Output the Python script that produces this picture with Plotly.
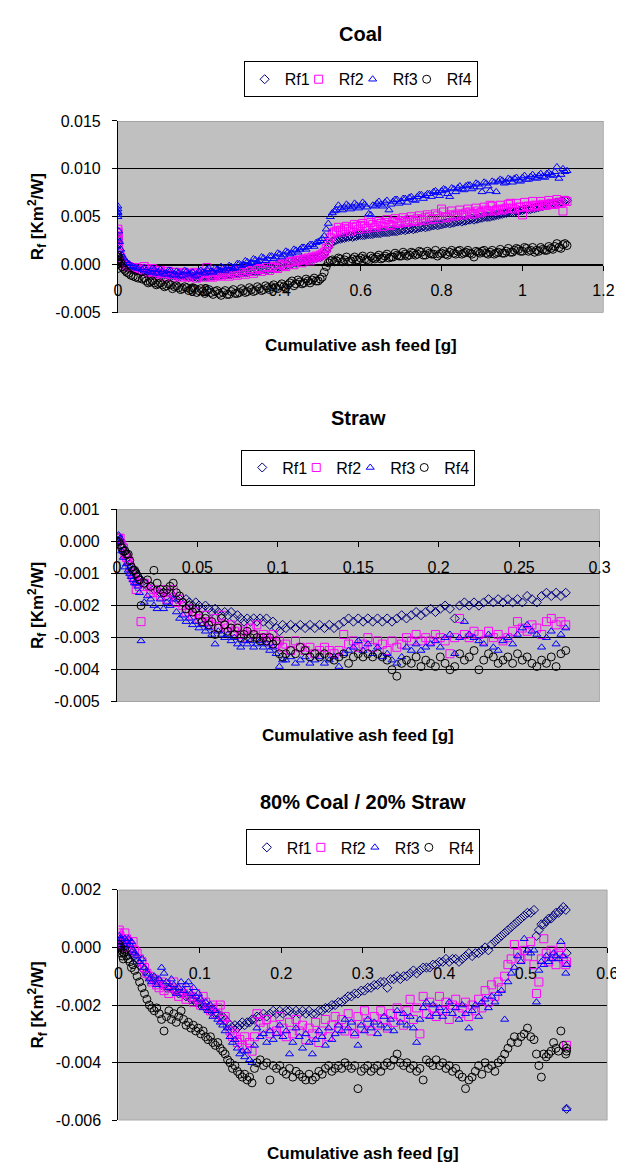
import plotly.graph_objects as go

W, H = 624, 1164
FONT = "Liberation Sans, Arial, Helvetica, sans-serif"

# ---------------- data ----------------
series_names = ["Rf1", "Rf2", "Rf3", "Rf4"]
series_colors = ["#000080", "#FF00FF", "#0000FF", "#000000"]
series_symbols = ["diamond-open", "square-open", "triangle-up-open", "circle-open"]
series_sizes = [7, 8, 7, 8]

chart_titles = ["Coal", "Straw", "80% Coal / 20% Straw"]
x_title = "Cumulative ash feed [g]"
y_title = "R<sub>f</sub> [Km<sup>2</sup>/W]"

# Coal (main readings)
coal_x = [
    0, 0, 0, 0, 0, 0, 0.002, 0.004, 0.007, 0.010,
    0.014, 0.018, 0.022, 0.027, 0.032, 0.038, 0.044, 0.050, 0.060, 0.070,
    0.08, 0.09, 0.10, 0.11, 0.12, 0.13, 0.14, 0.15, 0.16, 0.17,
    0.18, 0.19, 0.20, 0.21, 0.22, 0.23, 0.24, 0.25, 0.26, 0.27,
    0.28, 0.29, 0.30, 0.31, 0.32, 0.33, 0.34, 0.35, 0.36, 0.37,
    0.38, 0.39, 0.40, 0.41, 0.42, 0.43, 0.44, 0.45, 0.46, 0.47,
    0.48, 0.49, 0.50, 0.505, 0.51, 0.515, 0.52, 0.525, 0.53, 0.535,
    0.54, 0.55, 0.56, 0.57, 0.58, 0.59, 0.60, 0.61, 0.62, 0.63,
    0.64, 0.65, 0.66, 0.67, 0.68, 0.69, 0.70, 0.71, 0.72, 0.73,
    0.74, 0.75, 0.76, 0.77, 0.78, 0.79, 0.80, 0.81, 0.82, 0.83,
    0.84, 0.85, 0.86, 0.87, 0.88, 0.89, 0.90, 0.91, 0.92, 0.93,
    0.94, 0.95, 0.96, 0.97, 0.98, 0.99, 1.00, 1.01, 1.02, 1.03,
    1.04, 1.05, 1.06, 1.07, 1.08, 1.09, 1.10, 1.11]
coal_rf1 = [
    0.0026, 0.0029, 0.0024, 0.0027, 0.0022, 0.0020, 0.0014, 0.0009, 0.0005, 0.0002,
    0.0000, -0.0002, -0.0003, -0.0004, -0.0005, -0.0005, -0.0006, -0.0006, -0.0007, -0.0008,
    -0.0008, -0.0009, -0.0009, -0.0010, -0.0010, -0.0011, -0.0011, -0.0012, -0.0011, -0.0012,
    -0.0012, -0.0012, -0.0013, -0.0012, -0.0012, -0.0011, -0.0011, -0.0011, -0.0010, -0.0010,
    -0.0010, -0.0009, -0.0009, -0.0008, -0.0008, -0.0007, -0.0007, -0.0006, -0.0005, -0.0005,
    -0.0004, -0.0003, -0.0002, -0.0001, 0.0000, 0.0001, 0.0002, 0.0003, 0.0004, 0.0005,
    0.0006, 0.0007, 0.0008, 0.0009, 0.0011, 0.0014, 0.0018, 0.0022, 0.0024, 0.0025,
    0.0026, 0.0027, 0.0028, 0.0029, 0.0029, 0.0030, 0.0031, 0.0031, 0.0032, 0.0032,
    0.0033, 0.0033, 0.0034, 0.0034, 0.0035, 0.0035, 0.0036, 0.0036, 0.0037, 0.0037,
    0.0038, 0.0039, 0.0039, 0.0040, 0.0041, 0.0041, 0.0042, 0.0043, 0.0043, 0.0044,
    0.0045, 0.0045, 0.0046, 0.0047, 0.0047, 0.0048, 0.0049, 0.0050, 0.0050, 0.0051,
    0.0052, 0.0053, 0.0054, 0.0055, 0.0055, 0.0056, 0.0057, 0.0058, 0.0058, 0.0059,
    0.0060, 0.0061, 0.0062, 0.0063, 0.0064, 0.0065, 0.0066, 0.0067]
coal_rf2 = [
    0.0030, 0.0034, 0.0037, 0.0033, 0.0028, 0.0025, 0.0018, 0.0012, 0.0008, 0.0004,
    0.0002, 0.0000, -0.0001, -0.0002, -0.0003, -0.0004, -0.0003, -0.0005, -0.0006, -0.0004,
    -0.0007, -0.0006, -0.0008, -0.0009, -0.0007, -0.0010, -0.0008, -0.0011, -0.0009, -0.0012,
    -0.0010, -0.0008, -0.0011, -0.0009, -0.0003, -0.0012, -0.0010, -0.0011, -0.0009, -0.0010,
    -0.0008, -0.0009, -0.0007, -0.0008, -0.0006, -0.0007, -0.0005, -0.0004, -0.0005, -0.0003,
    -0.0002, -0.0003, 0.0000, -0.0001, 0.0002, 0.0003, 0.0004, 0.0005, 0.0006, 0.0007,
    0.0008, 0.0009, 0.0010, 0.0011, 0.0013, 0.0017, 0.0022, 0.0028, 0.0032, 0.0034,
    0.0035, 0.0036, 0.0038, 0.0037, 0.0039, 0.0040, 0.0041, 0.0040, 0.0046, 0.0042,
    0.0041, 0.0043, 0.0044, 0.0042, 0.0045, 0.0044, 0.0046, 0.0045, 0.0047, 0.0046,
    0.0048, 0.0047, 0.0049, 0.0050, 0.0048, 0.0051, 0.0058, 0.0050, 0.0052, 0.0051,
    0.0053, 0.0052, 0.0054, 0.0055, 0.0053, 0.0056, 0.0055, 0.0057, 0.0062, 0.0056,
    0.0058, 0.0057, 0.0059, 0.0064, 0.0058, 0.0060, 0.0052, 0.0061, 0.0060, 0.0062,
    0.0061, 0.0063, 0.0062, 0.0064, 0.0063, 0.0065, 0.0056, 0.0066]
coal_rf3 = [
    0.0052, 0.0055, 0.0058, 0.0061, 0.0054, 0.0050, 0.0035, 0.0024, 0.0016, 0.0010,
    0.0007, 0.0004, 0.0002, 0.0001, -0.0001, -0.0002, -0.0003, -0.0004, -0.0005, -0.0006,
    -0.0007, -0.0005, -0.0008, -0.0007, -0.0009, -0.0006, -0.0010, -0.0008, -0.0011, -0.0007,
    -0.0009, -0.0012, -0.0007, -0.0008, -0.0005, -0.0007, -0.0004, -0.0006, -0.0003, -0.0004,
    -0.0002, -0.0003, 0.0001, 0.0000, 0.0003, 0.0002, 0.0005, 0.0004, 0.0007, 0.0006,
    0.0009, 0.0008, 0.0011, 0.0010, 0.0013, 0.0012, 0.0015, 0.0016, 0.0018, 0.0019,
    0.0021, 0.0023, 0.0025, 0.0027, 0.0030, 0.0037, 0.0043, 0.0050, 0.0054, 0.0056,
    0.0057, 0.0059, 0.0060, 0.0061, 0.0060, 0.0062, 0.0061, 0.0063, 0.0053, 0.0062,
    0.0064, 0.0063, 0.0065, 0.0057, 0.0066, 0.0068, 0.0066, 0.0069, 0.0070, 0.0068,
    0.0071, 0.0073, 0.0072, 0.0074, 0.0076, 0.0075, 0.0077, 0.0078, 0.0071, 0.0079,
    0.0080, 0.0079, 0.0082, 0.0083, 0.0081, 0.0084, 0.0076, 0.0085, 0.0077, 0.0086,
    0.0087, 0.0088, 0.0086, 0.0089, 0.0090, 0.0088, 0.0091, 0.0089, 0.0092, 0.0091,
    0.0093, 0.0092, 0.0095, 0.0094, 0.0097, 0.0090, 0.0100, 0.0098]
coal_rf4 = [
    0.0003, 0.0008, 0.0005, 0.0010, -0.0004, 0.0001, 0.0004, 0.0006, 0.0002, -0.0002,
    -0.0004, -0.0006, -0.0008, -0.0009, -0.0011, -0.0012, -0.0013, -0.0014, -0.0015, -0.0017,
    -0.0018, -0.0019, -0.0020, -0.0021, -0.0022, -0.0021, -0.0023, -0.0024, -0.0025, -0.0024,
    -0.0026, -0.0025, -0.0027, -0.0028, -0.0027, -0.0029, -0.0028, -0.0030, -0.0029, -0.0031,
    -0.0028, -0.0030, -0.0029, -0.0027, -0.0028, -0.0026, -0.0027, -0.0025, -0.0026, -0.0024,
    -0.0023, -0.0024, -0.0022, -0.0023, -0.0021, -0.0017, -0.0020, -0.0018, -0.0019, -0.0017,
    -0.0016, -0.0017, -0.0015, -0.0013, -0.0008, -0.0002, 0.0002, 0.0004, 0.0005, 0.0003,
    0.0004, 0.0006, 0.0005, 0.0003, 0.0006, 0.0005, 0.0007, 0.0006, 0.0004, 0.0007,
    0.0008, 0.0006, 0.0009, 0.0007, 0.0008, 0.0010, 0.0009, 0.0011, 0.0010, 0.0012,
    0.0011, 0.0013, 0.0010, 0.0012, 0.0011, 0.0009, 0.0012, 0.0011, 0.0013, 0.0012,
    0.0014, 0.0011, 0.0013, 0.0012, 0.0008, 0.0013, 0.0014, 0.0012, 0.0013, 0.0011,
    0.0013, 0.0012, 0.0014, 0.0013, 0.0015, 0.0016, 0.0014, 0.0017, 0.0015, 0.0013,
    0.0014, 0.0016, 0.0015, 0.0017, 0.0019, 0.0018, 0.0021, 0.0020]

# Coal (intermediate readings between the ones above)
coal_x_mid = [
    0.065, 0.075, 0.085, 0.095, 0.105, 0.115, 0.125, 0.135, 0.145, 0.155,
    0.165, 0.175, 0.185, 0.195, 0.205, 0.215, 0.225, 0.235, 0.245, 0.255,
    0.265, 0.275, 0.285, 0.295, 0.305, 0.315, 0.325, 0.335, 0.345, 0.355,
    0.365, 0.375, 0.385, 0.395, 0.405, 0.415, 0.425, 0.435, 0.445, 0.455,
    0.465, 0.475, 0.485, 0.495,
    0.545, 0.555, 0.565, 0.575, 0.585, 0.595, 0.605, 0.615, 0.625, 0.635,
    0.645, 0.655, 0.665, 0.675, 0.685, 0.695, 0.705, 0.715, 0.725, 0.735,
    0.745, 0.755, 0.765, 0.775, 0.785, 0.795, 0.805, 0.815, 0.825, 0.835,
    0.845, 0.855, 0.865, 0.875, 0.885, 0.895, 0.905, 0.915, 0.925, 0.935,
    0.945, 0.955, 0.965, 0.975, 0.985, 0.995, 1.005, 1.015, 1.025, 1.035,
    1.045, 1.055, 1.065, 1.075, 1.085, 1.095, 1.105]
coal_rf1_mid = [
    -0.0006, -0.0008, -0.0008, -0.0009, -0.0010, -0.0010, -0.0011, -0.0011, -0.0012, -0.0012,
    -0.0012, -0.0013, -0.0013, -0.0013, -0.0012, -0.0012, -0.0012, -0.0011, -0.0011, -0.0010,
    -0.0010, -0.0010, -0.0009, -0.0009, -0.0008, -0.0008, -0.0007, -0.0006, -0.0006, -0.0005,
    -0.0004, -0.0003, -0.0002, -0.0001, 0.0000, 0.0001, 0.0002, 0.0003, 0.0004, 0.0005,
    0.0005, 0.0006, 0.0007, 0.0008,
    0.0027, 0.0028, 0.0029, 0.0030, 0.0030, 0.0031, 0.0031, 0.0032, 0.0032, 0.0033,
    0.0033, 0.0034, 0.0034, 0.0035, 0.0035, 0.0036, 0.0037, 0.0037, 0.0038, 0.0038,
    0.0039, 0.0040, 0.0040, 0.0041, 0.0042, 0.0042, 0.0043, 0.0044, 0.0044, 0.0045,
    0.0046, 0.0046, 0.0047, 0.0048, 0.0048, 0.0049, 0.0050, 0.0050, 0.0051, 0.0052,
    0.0053, 0.0054, 0.0055, 0.0055, 0.0056, 0.0057, 0.0058, 0.0058, 0.0059, 0.0060,
    0.0061, 0.0062, 0.0063, 0.0064, 0.0065, 0.0066, 0.0067]
coal_rf2_mid = [
    -0.0002, -0.0008, -0.0004, -0.0010, -0.0006, -0.0012, -0.0007, -0.0013, -0.0008, -0.0013,
    -0.0008, -0.0013, -0.0009, -0.0014, -0.0009, -0.0013, -0.0008, -0.0013, -0.0008, -0.0012,
    -0.0007, -0.0012, -0.0006, -0.0011, -0.0005, -0.0010, -0.0004, -0.0009, -0.0003, -0.0007,
    -0.0002, -0.0006, 0.0000, -0.0004, 0.0001, -0.0002, 0.0003, 0.0000, 0.0004, 0.0002,
    0.0005, 0.0004, 0.0007, 0.0008,
    0.0039, 0.0034, 0.0040, 0.0035, 0.0042, 0.0037, 0.0043, 0.0038, 0.0044, 0.0039,
    0.0045, 0.0040, 0.0047, 0.0041, 0.0048, 0.0043, 0.0049, 0.0044, 0.0050, 0.0045,
    0.0051, 0.0046, 0.0052, 0.0047, 0.0053, 0.0048, 0.0055, 0.0049, 0.0056, 0.0051,
    0.0057, 0.0052, 0.0058, 0.0053, 0.0059, 0.0054, 0.0060, 0.0056, 0.0061, 0.0057,
    0.0062, 0.0058, 0.0063, 0.0059, 0.0064, 0.0060, 0.0065, 0.0061, 0.0066, 0.0062,
    0.0066, 0.0062, 0.0067, 0.0063, 0.0068, 0.0064, 0.0067]
coal_rf3_mid = [
    -0.0003, -0.0008, -0.0004, -0.0009, -0.0005, -0.0010, -0.0006, -0.0011, -0.0007, -0.0012,
    -0.0006, -0.0010, -0.0008, -0.0011, -0.0006, -0.0009, -0.0004, -0.0008, -0.0005, -0.0002,
    -0.0006, -0.0001, -0.0004, 0.0001, -0.0001, 0.0004, 0.0001, 0.0006, 0.0003, 0.0008,
    0.0004, 0.0009, 0.0006, 0.0012, 0.0008, 0.0014, 0.0011, 0.0016, 0.0013, 0.0018,
    0.0016, 0.0021, 0.0019, 0.0024,
    0.0062, 0.0057, 0.0063, 0.0058, 0.0064, 0.0059, 0.0065, 0.0060, 0.0052, 0.0061,
    0.0066, 0.0061, 0.0067, 0.0063, 0.0068, 0.0064, 0.0069, 0.0065, 0.0071, 0.0067,
    0.0073, 0.0069, 0.0074, 0.0071, 0.0077, 0.0072, 0.0079, 0.0074, 0.0080, 0.0076,
    0.0082, 0.0078, 0.0083, 0.0079, 0.0085, 0.0081, 0.0086, 0.0082, 0.0087, 0.0076,
    0.0089, 0.0085, 0.0090, 0.0086, 0.0091, 0.0087, 0.0093, 0.0089, 0.0094, 0.0090,
    0.0095, 0.0091, 0.0096, 0.0093, 0.0102, 0.0094, 0.0097]
coal_rf4_mid = [
    -0.0014, -0.0019, -0.0017, -0.0021, -0.0019, -0.0023, -0.0020, -0.0025, -0.0022, -0.0026,
    -0.0023, -0.0027, -0.0024, -0.0029, -0.0025, -0.0030, -0.0026, -0.0031, -0.0027, -0.0032,
    -0.0027, -0.0031, -0.0026, -0.0030, -0.0025, -0.0029, -0.0024, -0.0028, -0.0023, -0.0027,
    -0.0022, -0.0026, -0.0021, -0.0025, -0.0020, -0.0024, -0.0019, -0.0022, -0.0016, -0.0020,
    -0.0015, -0.0019, -0.0014, -0.0017,
    0.0007, 0.0003, 0.0008, 0.0004, 0.0008, 0.0005, 0.0009, 0.0005, 0.0009, 0.0006,
    0.0010, 0.0007, 0.0011, 0.0008, 0.0012, 0.0009, 0.0013, 0.0009, 0.0013, 0.0010,
    0.0014, 0.0010, 0.0014, 0.0011, 0.0015, 0.0011, 0.0014, 0.0010, 0.0015, 0.0011,
    0.0015, 0.0012, 0.0015, 0.0011, 0.0014, 0.0012, 0.0015, 0.0011, 0.0015, 0.0012,
    0.0016, 0.0012, 0.0017, 0.0013, 0.0017, 0.0014, 0.0018, 0.0014, 0.0018, 0.0015,
    0.0018, 0.0015, 0.0019, 0.0016, 0.0022, 0.0017, 0.0022]

# Straw
straw_x = [
    0, 0.001, 0.002, 0.003, 0.004, 0.005, 0.006, 0.007, 0.008, 0.009,
    0.010, 0.011, 0.012, 0.013, 0.014, 0.015, 0.017, 0.019, 0.021, 0.023,
    0.025, 0.027, 0.029, 0.031, 0.033, 0.035, 0.037, 0.039, 0.041, 0.043,
    0.045, 0.047, 0.049, 0.051, 0.053, 0.055, 0.057, 0.059, 0.061, 0.063,
    0.065, 0.067, 0.069, 0.071, 0.073, 0.075, 0.077, 0.079, 0.081, 0.083,
    0.085, 0.087, 0.089, 0.091, 0.093, 0.095, 0.097, 0.099, 0.101, 0.103,
    0.105, 0.108, 0.111, 0.114, 0.117, 0.120, 0.123, 0.126, 0.129, 0.132,
    0.135, 0.138, 0.141, 0.144, 0.147, 0.150, 0.153, 0.156, 0.159, 0.162,
    0.165, 0.168, 0.171, 0.174, 0.177, 0.180, 0.183, 0.186, 0.189, 0.192,
    0.195, 0.198, 0.201, 0.204, 0.207, 0.210, 0.213, 0.216, 0.219, 0.222,
    0.225, 0.228, 0.231, 0.234, 0.237, 0.240, 0.243, 0.246, 0.249, 0.252,
    0.255, 0.258, 0.261, 0.264, 0.267, 0.270, 0.273, 0.276, 0.279]
straw_rf1 = [
    0.0000, 0.0001, 0.0000, -0.0001, -0.0002, -0.0003, -0.0004, -0.0005, -0.0007, -0.0008,
    -0.0009, -0.0009, -0.0010, -0.0011, -0.0012, -0.0012, -0.0013, -0.0014, -0.0014, -0.0015,
    -0.0015, -0.0016, -0.0016, -0.0017, -0.0016, -0.0017, -0.0018, -0.0018, -0.0019, -0.0018,
    -0.0019, -0.0020, -0.0019, -0.0020, -0.0021, -0.0020, -0.0021, -0.0022, -0.0021, -0.0022,
    -0.0023, -0.0022, -0.0023, -0.0022, -0.0024, -0.0023, -0.0024, -0.0025, -0.0024, -0.0025,
    -0.0024, -0.0025, -0.0024, -0.0025, -0.0024, -0.0026, -0.0025, -0.0027, -0.0028, -0.0026,
    -0.0027, -0.0026, -0.0027, -0.0026, -0.0027, -0.0026, -0.0027, -0.0026, -0.0027, -0.0026,
    -0.0027, -0.0026, -0.0025, -0.0024, -0.0025, -0.0024, -0.0025, -0.0024, -0.0025, -0.0024,
    -0.0025, -0.0024, -0.0025, -0.0024, -0.0023, -0.0024, -0.0023, -0.0022, -0.0023, -0.0022,
    -0.0021, -0.0022, -0.0021, -0.0020, -0.0021, -0.0024, -0.0020, -0.0019, -0.0020, -0.0019,
    -0.0020, -0.0019, -0.0018, -0.0019, -0.0018, -0.0019, -0.0018, -0.0019, -0.0018, -0.0019,
    -0.0017, -0.0018, -0.0019, -0.0017, -0.0016, -0.0017, -0.0016, -0.0017, -0.0016]
straw_rf2 = [
    0.0000, 0.0001, 0.0001, -0.0001, -0.0002, -0.0004, -0.0005, -0.0006, -0.0008, -0.0010,
    -0.0011, -0.0012, -0.0015, -0.0013, -0.0014, -0.0025, -0.0013, -0.0014, -0.0016, -0.0015,
    -0.0016, -0.0017, -0.0015, -0.0018, -0.0016, -0.0015, -0.0019, -0.0018, -0.0020, -0.0022,
    -0.0021, -0.0023, -0.0022, -0.0024, -0.0025, -0.0023, -0.0025, -0.0026, -0.0024, -0.0027,
    -0.0023, -0.0026, -0.0027, -0.0026, -0.0028, -0.0027, -0.0029, -0.0028, -0.0030, -0.0027,
    -0.0029, -0.0026, -0.0030, -0.0029, -0.0030, -0.0031, -0.0029, -0.0032, -0.0031, -0.0033,
    -0.0032, -0.0034, -0.0031, -0.0033, -0.0034, -0.0033, -0.0035, -0.0034, -0.0033, -0.0034,
    -0.0035, -0.0034, -0.0029, -0.0032, -0.0031, -0.0033, -0.0032, -0.0030, -0.0033, -0.0031,
    -0.0032, -0.0034, -0.0031, -0.0033, -0.0032, -0.0030, -0.0031, -0.0029, -0.0031, -0.0030,
    -0.0031, -0.0029, -0.0030, -0.0031, -0.0035, -0.0030, -0.0024, -0.0029, -0.0030, -0.0028,
    -0.0029, -0.0031, -0.0028, -0.0030, -0.0029, -0.0031, -0.0030, -0.0028, -0.0025, -0.0027,
    -0.0028, -0.0026, -0.0027, -0.0029, -0.0025, -0.0024, -0.0026, -0.0025, -0.0026]
straw_rf3 = [
    0.0000, 0.0002, 0.0001, -0.0003, -0.0005, -0.0008, -0.0007, -0.0009, -0.0010, -0.0011,
    -0.0012, -0.0013, -0.0013, -0.0014, -0.0016, -0.0031, -0.0019, -0.0017, -0.0018, -0.0020,
    -0.0021, -0.0018, -0.0021, -0.0019, -0.0020, -0.0018, -0.0022, -0.0024, -0.0023, -0.0025,
    -0.0024, -0.0026, -0.0025, -0.0027, -0.0026, -0.0028, -0.0027, -0.0029, -0.0032, -0.0028,
    -0.0029, -0.0030, -0.0029, -0.0031, -0.0030, -0.0032, -0.0033, -0.0031, -0.0032, -0.0031,
    -0.0033, -0.0032, -0.0031, -0.0033, -0.0032, -0.0034, -0.0033, -0.0035, -0.0039, -0.0037,
    -0.0037, -0.0036, -0.0038, -0.0037, -0.0036, -0.0038, -0.0037, -0.0036, -0.0038, -0.0037,
    -0.0036, -0.0039, -0.0035, -0.0034, -0.0033, -0.0031, -0.0034, -0.0032, -0.0035, -0.0033,
    -0.0036, -0.0035, -0.0037, -0.0038, -0.0036, -0.0033, -0.0034, -0.0032, -0.0034, -0.0033,
    -0.0032, -0.0031, -0.0033, -0.0030, -0.0029, -0.0035, -0.0030, -0.0025, -0.0029, -0.0030,
    -0.0031, -0.0032, -0.0029, -0.0033, -0.0034, -0.0031, -0.0030, -0.0032, -0.0029, -0.0027,
    -0.0026, -0.0028, -0.0029, -0.0033, -0.0030, -0.0028, -0.0032, -0.0029, -0.0027]
straw_rf4 = [
    0.0000, 0.0000, -0.0001, -0.0002, -0.0003, -0.0003, -0.0004, -0.0004, -0.0006, -0.0008,
    -0.0009, -0.0009, -0.0010, -0.0011, -0.0012, -0.0020, -0.0013, -0.0012, -0.0014, -0.0009,
    -0.0013, -0.0015, -0.0016, -0.0015, -0.0014, -0.0013, -0.0016, -0.0017, -0.0019, -0.0021,
    -0.0020, -0.0022, -0.0021, -0.0023, -0.0025, -0.0024, -0.0026, -0.0025, -0.0029, -0.0027,
    -0.0024, -0.0026, -0.0028, -0.0027, -0.0029, -0.0027, -0.0030, -0.0029, -0.0028, -0.0030,
    -0.0029, -0.0030, -0.0031, -0.0030, -0.0031, -0.0030, -0.0032, -0.0031, -0.0035, -0.0036,
    -0.0035, -0.0034, -0.0035, -0.0033, -0.0034, -0.0036, -0.0035, -0.0036, -0.0035, -0.0036,
    -0.0037, -0.0036, -0.0035, -0.0038, -0.0036, -0.0035, -0.0036, -0.0035, -0.0036, -0.0035,
    -0.0036, -0.0037, -0.0040, -0.0042, -0.0038, -0.0037, -0.0038, -0.0036, -0.0039, -0.0037,
    -0.0038, -0.0039, -0.0036, -0.0038, -0.0040, -0.0039, -0.0035, -0.0037, -0.0036, -0.0034,
    -0.0040, -0.0037, -0.0035, -0.0036, -0.0038, -0.0037, -0.0036, -0.0038, -0.0035, -0.0037,
    -0.0036, -0.0038, -0.0039, -0.0037, -0.0038, -0.0036, -0.0039, -0.0035, -0.0034]

# 80% Coal / 20% Straw
mix_x = [
    0, 0.001, 0.002, 0.003, 0.004, 0.005, 0.006, 0.007, 0.008, 0.010,
    0.012, 0.014, 0.016, 0.018, 0.020, 0.023, 0.026, 0.029, 0.032, 0.035,
    0.038, 0.041, 0.044, 0.047, 0.050, 0.053, 0.056, 0.059, 0.062, 0.065,
    0.068, 0.071, 0.074, 0.077, 0.080, 0.083, 0.086, 0.089, 0.092, 0.095,
    0.098, 0.101, 0.104, 0.107, 0.110, 0.113, 0.116, 0.119, 0.122, 0.125,
    0.128, 0.131, 0.134, 0.137, 0.140, 0.143, 0.146, 0.149, 0.152, 0.155,
    0.158, 0.161, 0.164, 0.167, 0.170, 0.174, 0.178, 0.182, 0.186, 0.190,
    0.194, 0.198, 0.202, 0.206, 0.210, 0.214, 0.218, 0.222, 0.226, 0.230,
    0.234, 0.238, 0.242, 0.246, 0.250, 0.254, 0.258, 0.262, 0.266, 0.270,
    0.274, 0.278, 0.282, 0.286, 0.290, 0.294, 0.298, 0.302, 0.306, 0.310,
    0.314, 0.318, 0.322, 0.326, 0.330, 0.334, 0.338, 0.342, 0.346, 0.350,
    0.354, 0.358, 0.362, 0.366, 0.370, 0.374, 0.378, 0.382, 0.386, 0.390,
    0.394, 0.398, 0.402, 0.406, 0.410, 0.414, 0.418, 0.422, 0.426, 0.430,
    0.434, 0.438, 0.442, 0.446, 0.450, 0.454, 0.458, 0.462, 0.466, 0.470,
    0.474, 0.478, 0.482, 0.486, 0.490, 0.494, 0.498, 0.502, 0.506, 0.510,
    0.513, 0.516, 0.519, 0.522, 0.525, 0.528, 0.531, 0.534, 0.537, 0.540,
    0.543, 0.546, 0.549, 0.550, 0.550]
mix_rf1 = [
    0.0000, 0.0002, 0.0001, 0.0003, 0.0002, 0.0001, 0.0002, 0.0001, 0.0001, 0.0001,
    0.0000, -0.0001, -0.0002, -0.0003, -0.0003, -0.0005, -0.0006, -0.0007, -0.0008, -0.0009,
    -0.0010, -0.0011, -0.0011, -0.0012, -0.0012, -0.0013, -0.0013, -0.0014, -0.0014, -0.0014,
    -0.0015, -0.0015, -0.0016, -0.0016, -0.0016, -0.0017, -0.0017, -0.0018, -0.0018, -0.0019,
    -0.0019, -0.0020, -0.0020, -0.0021, -0.0021, -0.0022, -0.0022, -0.0023, -0.0023, -0.0024,
    -0.0024, -0.0025, -0.0026, -0.0027, -0.0028, -0.0027, -0.0028, -0.0027, -0.0026, -0.0027,
    -0.0026, -0.0026, -0.0025, -0.0025, -0.0024, -0.0024, -0.0023, -0.0024, -0.0023, -0.0022,
    -0.0023, -0.0022, -0.0023, -0.0022, -0.0022, -0.0023, -0.0022, -0.0023, -0.0022, -0.0023,
    -0.0022, -0.0023, -0.0023, -0.0022, -0.0022, -0.0021, -0.0021, -0.0020, -0.0020, -0.0019,
    -0.0019, -0.0018, -0.0017, -0.0017, -0.0016, -0.0016, -0.0015, -0.0015, -0.0014, -0.0014,
    -0.0013, -0.0013, -0.0012, -0.0012, -0.0014, -0.0011, -0.0011, -0.0010, -0.0011, -0.0010,
    -0.0010, -0.0009, -0.0008, -0.0009, -0.0008, -0.0007, -0.0007, -0.0007, -0.0006, -0.0006,
    -0.0005, -0.0005, -0.0004, -0.0005, -0.0004, -0.0004, -0.0005, -0.0004, -0.0003, -0.0002,
    -0.0003, -0.0002, -0.0002, -0.0001, 0.0000, -0.0001, 0.0001, 0.0002, 0.0003, 0.0004,
    0.0005, 0.0006, 0.0007, 0.0008, 0.0009, 0.0010, 0.0011, 0.0012, 0.0012, 0.0013,
    0.0004, 0.0006, 0.0008, 0.0008, 0.0009, 0.0010, 0.0010, 0.0011, 0.0012, 0.0012,
    0.0013, 0.0014, 0.0013, -0.0002, -0.0056]
mix_rf2 = [
    0.0005, 0.0006, 0.0004, 0.0002, 0.0003, 0.0001, 0.0000, 0.0002, 0.0005, 0.0003,
    0.0002, 0.0001, 0.0000, 0.0002, -0.0001, -0.0002, -0.0004, -0.0005, -0.0007, -0.0009,
    -0.0010, -0.0012, -0.0011, -0.0013, -0.0014, -0.0012, -0.0015, -0.0013, -0.0016, -0.0014,
    -0.0012, -0.0015, -0.0017, -0.0014, -0.0016, -0.0018, -0.0015, -0.0017, -0.0019, -0.0016,
    -0.0018, -0.0020, -0.0017, -0.0019, -0.0021, -0.0022, -0.0020, -0.0023, -0.0021, -0.0020,
    -0.0025, -0.0024, -0.0027, -0.0029, -0.0031, -0.0030, -0.0033, -0.0032, -0.0034, -0.0031,
    -0.0035, -0.0033, -0.0036, -0.0031, -0.0023, -0.0026, -0.0028, -0.0025, -0.0030, -0.0027,
    -0.0029, -0.0024, -0.0028, -0.0031, -0.0026, -0.0030, -0.0025, -0.0029, -0.0027, -0.0032,
    -0.0028, -0.0030, -0.0026, -0.0033, -0.0029, -0.0025, -0.0031, -0.0027, -0.0024, -0.0028,
    -0.0025, -0.0029, -0.0023, -0.0027, -0.0030, -0.0024, -0.0028, -0.0022, -0.0026, -0.0029,
    -0.0024, -0.0027, -0.0022, -0.0025, -0.0028, -0.0023, -0.0026, -0.0021, -0.0024, -0.0027,
    -0.0022, -0.0018, -0.0025, -0.0021, -0.0030, -0.0017, -0.0023, -0.0019, -0.0021, -0.0024,
    -0.0017, -0.0022, -0.0019, -0.0025, -0.0020, -0.0018, -0.0023, -0.0021, -0.0019, -0.0024,
    -0.0020, -0.0022, -0.0018, -0.0021, -0.0015, -0.0019, -0.0013, -0.0017, -0.0012, -0.0014,
    -0.0010, -0.0006, -0.0004, 0.0001, -0.0002, -0.0004, -0.0001, -0.0003, 0.0002, -0.0006,
    -0.0016, -0.0012, -0.0004, 0.0003, -0.0002, -0.0005, -0.0001, -0.0003, -0.0006, -0.0002,
    0.0000, -0.0004, -0.0006, -0.0034, -0.0005]
mix_rf3 = [
    0.0002, 0.0004, 0.0003, 0.0001, 0.0003, 0.0002, 0.0000, 0.0001, 0.0003, 0.0002,
    0.0003, 0.0001, 0.0002, -0.0001, -0.0002, -0.0003, -0.0005, -0.0004, -0.0007, -0.0009,
    -0.0011, -0.0012, -0.0010, -0.0013, -0.0011, -0.0007, -0.0009, -0.0012, -0.0014, -0.0011,
    -0.0013, -0.0016, -0.0014, -0.0012, -0.0015, -0.0013, -0.0012, -0.0016, -0.0014, -0.0017,
    -0.0016, -0.0018, -0.0021, -0.0019, -0.0022, -0.0020, -0.0024, -0.0022, -0.0025, -0.0026,
    -0.0027, -0.0029, -0.0028, -0.0031, -0.0033, -0.0032, -0.0035, -0.0037, -0.0036, -0.0038,
    -0.0036, -0.0039, -0.0040, -0.0034, -0.0028, -0.0031, -0.0030, -0.0033, -0.0029, -0.0032,
    -0.0030, -0.0027, -0.0031, -0.0029, -0.0037, -0.0033, -0.0028, -0.0031, -0.0035, -0.0030,
    -0.0033, -0.0037, -0.0032, -0.0029, -0.0031, -0.0034, -0.0028, -0.0032, -0.0030, -0.0027,
    -0.0029, -0.0025, -0.0028, -0.0026, -0.0030, -0.0034, -0.0027, -0.0029, -0.0025, -0.0028,
    -0.0026, -0.0030, -0.0027, -0.0024, -0.0028, -0.0025, -0.0029, -0.0022, -0.0026, -0.0023,
    -0.0027, -0.0024, -0.0028, -0.0033, -0.0025, -0.0021, -0.0019, -0.0024, -0.0020, -0.0023,
    -0.0021, -0.0024, -0.0022, -0.0019, -0.0023, -0.0021, -0.0025, -0.0020, -0.0023, -0.0028,
    -0.0022, -0.0020, -0.0024, -0.0019, -0.0018, -0.0021, -0.0017, -0.0019, -0.0016, -0.0015,
    -0.0025, -0.0012, -0.0009, -0.0007, -0.0003, -0.0005, 0.0003, -0.0001, -0.0002, -0.0001,
    -0.0019, -0.0008, -0.0005, -0.0006, -0.0003, -0.0005, -0.0004, -0.0002, -0.0003, -0.0004,
    0.0002, -0.0003, -0.0009, -0.0006, -0.0056]
mix_rf4 = [
    0.0000, 0.0001, -0.0001, 0.0000, -0.0002, -0.0003, -0.0004, -0.0002, -0.0001, -0.0003,
    -0.0004, -0.0005, -0.0007, -0.0006, -0.0008, -0.0010, -0.0012, -0.0014, -0.0016, -0.0018,
    -0.0020, -0.0021, -0.0022, -0.0021, -0.0023, -0.0025, -0.0029, -0.0024, -0.0022, -0.0025,
    -0.0023, -0.0026, -0.0024, -0.0022, -0.0025, -0.0027, -0.0026, -0.0028, -0.0027, -0.0029,
    -0.0028, -0.0030, -0.0029, -0.0031, -0.0032, -0.0031, -0.0033, -0.0034, -0.0033, -0.0035,
    -0.0036, -0.0037, -0.0039, -0.0040, -0.0042, -0.0041, -0.0043, -0.0044, -0.0045, -0.0044,
    -0.0046, -0.0045, -0.0047, -0.0042, -0.0040, -0.0039, -0.0041, -0.0040, -0.0046, -0.0041,
    -0.0042, -0.0041, -0.0043, -0.0044, -0.0042, -0.0045, -0.0043, -0.0044, -0.0045, -0.0046,
    -0.0044, -0.0046, -0.0045, -0.0043, -0.0044, -0.0042, -0.0041, -0.0043, -0.0042, -0.0041,
    -0.0042, -0.0040, -0.0041, -0.0042, -0.0041, -0.0049, -0.0043, -0.0042, -0.0041, -0.0043,
    -0.0042, -0.0041, -0.0043, -0.0041, -0.0040, -0.0041, -0.0039, -0.0037, -0.0040, -0.0041,
    -0.0040, -0.0042, -0.0041, -0.0043, -0.0042, -0.0046, -0.0039, -0.0040, -0.0041, -0.0039,
    -0.0041, -0.0040, -0.0042, -0.0041, -0.0043, -0.0042, -0.0044, -0.0045, -0.0049, -0.0046,
    -0.0045, -0.0043, -0.0041, -0.0044, -0.0040, -0.0042, -0.0041, -0.0043, -0.0040, -0.0039,
    -0.0037, -0.0035, -0.0033, -0.0031, -0.0033, -0.0031, -0.0030, -0.0028, -0.0031, -0.0032,
    -0.0037, -0.0041, -0.0045, -0.0037, -0.0038, -0.0037, -0.0036, -0.0033, -0.0035, -0.0036,
    -0.0029, -0.0034, -0.0037, -0.0035, -0.0036]

# axis ticks
coal_xticks = [0, 0.2, 0.4, 0.6, 0.8, 1.0, 1.2]
coal_xlabels = ["0", "0.2", "0.4", "0.6", "0.8", "1", "1.2"]
coal_yticks = [-0.005, 0.0, 0.005, 0.010, 0.015]
coal_ylabels = ["-0.005", "0.000", "0.005", "0.010", "0.015"]

straw_xticks = [0, 0.05, 0.1, 0.15, 0.2, 0.25, 0.3]
straw_xlabels = ["0", "0.05", "0.1", "0.15", "0.2", "0.25", "0.3"]
straw_yticks = [-0.005, -0.004, -0.003, -0.002, -0.001, 0.0, 0.001]
straw_ylabels = ["-0.005", "-0.004", "-0.003", "-0.002", "-0.001", "0.000", "0.001"]

mix_xticks = [0, 0.1, 0.2, 0.3, 0.4, 0.5, 0.6]
mix_xlabels = ["0", "0.1", "0.2", "0.3", "0.4", "0.5", "0.6"]
mix_yticks = [-0.006, -0.004, -0.002, 0.0, 0.002]
mix_ylabels = ["-0.006", "-0.004", "-0.002", "0.000", "0.002"]

for xs, group in [(coal_x, [coal_rf1, coal_rf2, coal_rf3, coal_rf4]),
                  (coal_x_mid, [coal_rf1_mid, coal_rf2_mid, coal_rf3_mid, coal_rf4_mid]),
                  (straw_x, [straw_rf1, straw_rf2, straw_rf3, straw_rf4]),
                  (mix_x, [mix_rf1, mix_rf2, mix_rf3, mix_rf4])]:
    for ys in group:
        assert len(ys) == len(xs), (len(xs), len(ys))

coal_series = [
    (coal_x + coal_x_mid, coal_rf1 + coal_rf1_mid),
    (coal_x + coal_x_mid, coal_rf2 + coal_rf2_mid),
    (coal_x + coal_x_mid, coal_rf3 + coal_rf3_mid),
    (coal_x + coal_x_mid, coal_rf4 + coal_rf4_mid),
]
straw_series = [(straw_x, ys) for ys in [straw_rf1, straw_rf2, straw_rf3, straw_rf4]]
mix_series = [(mix_x, ys) for ys in [mix_rf1, mix_rf2, mix_rf3, mix_rf4]]

# ---------------- layout (pixel boxes) ----------------
panels = [
    dict(series=coal_series,
         xr=[0, 1.2], xt=coal_xticks, xl=coal_xlabels,
         yr=[-0.005, 0.015], yt=coal_yticks, yl=coal_ylabels,
         box=(108.5, 606, 106.5, 301), title_y=18.5, legend_top=46, xtitle_y=334),
    dict(series=straw_series,
         xr=[0, 0.3], xt=straw_xticks, xl=straw_xlabels,
         yr=[-0.005, 0.001], yt=straw_yticks, yl=straw_ylabels,
         box=(107.5, 602, 500.7, 696), title_y=408, legend_top=440, xtitle_y=730),
    dict(series=mix_series,
         xr=[0, 0.6], xt=mix_xticks, xl=mix_xlabels,
         yr=[-0.006, 0.002], yt=mix_yticks, yl=mix_ylabels,
         box=(109, 610, 886.7, 1120.7), title_y=798, legend_top=825.5, xtitle_y=1154),
]

fig = go.Figure()
layout = dict(
    width=W, height=H, margin=dict(l=0, r=0, t=0, b=0),
    paper_bgcolor="white", plot_bgcolor="#C0C0C0",
    font=dict(family=FONT, size=16, color="black"),
    showlegend=True,
)
annotations = []
shapes = []
tickfont = dict(family=FONT, size=16, color="black")

for i, p in enumerate(panels):
    sfx = "" if i == 0 else str(i + 1)
    xa, ya, lg = "x" + sfx, "y" + sfx, "legend" + sfx
    l, r, t, b = p["box"]
    xdom = [l / W, r / W]
    ydom = [1 - b / H, 1 - t / H]
    y0, y1 = p["yr"]
    x0, x1 = p["xr"]
    zero_pos = ydom[0] + (0 - y0) / (y1 - y0) * (ydom[1] - ydom[0])

    for k in range(4):
        xs, ys = p["series"][k]
        tr = dict(x=xs, y=ys, mode="markers", name=series_names[k],
                  xaxis=xa, yaxis=ya, legend=lg,
                  marker=dict(symbol=series_symbols[k], size=series_sizes[k],
                              color=series_colors[k],
                              line=dict(width=1, color=series_colors[k])),
                  hoverinfo="x+y+name")
        if k < 3:
            tr["legendwidth"] = 9
        fig.add_trace(go.Scatter(**tr))

    layout["xaxis" + sfx] = dict(
        domain=xdom, range=p["xr"], anchor="free", position=zero_pos,
        tickmode="array", tickvals=p["xt"], ticktext=p["xl"],
        ticks="outside", ticklen=5, tickwidth=1, tickcolor="black",
        showline=True, linecolor="black", linewidth=1,
        showgrid=False, zeroline=False, layer="below traces",
        tickfont=tickfont, ticklabelstandoff=6, fixedrange=True)
    layout["yaxis" + sfx] = dict(
        domain=ydom, range=p["yr"], anchor=xa,
        tickmode="array", tickvals=p["yt"], ticktext=p["yl"],
        ticks="outside", ticklen=5, tickwidth=1, tickcolor="black",
        showline=True, linecolor="black", linewidth=1,
        showgrid=True, gridcolor="black", gridwidth=1, zeroline=False,
        tickfont=tickfont, ticklabelstandoff=8, fixedrange=True)

    layout[lg] = dict(
        orientation="h", x=(xdom[0] + xdom[1]) / 2, xanchor="center",
        y=1 - p["legend_top"] / H, yanchor="top",
        bgcolor="white", bordercolor="black", borderwidth=1,
        font=dict(family=FONT, size=16, color="black"),
        itemwidth=30, itemclick=False, itemdoubleclick=False)

    # grey plot-area frame (top, right, bottom), drawn over the grid
    for (sx0, sy0, sx1, sy1) in [(x0, y1, x1, y1), (x1, y0, x1, y1), (x0, y0, x1, y0)]:
        shapes.append(dict(type="line", xref=xa, yref=ya,
                           x0=sx0, y0=sy0, x1=sx1, y1=sy1, layer="between",
                           line=dict(color="#808080", width=1)))

    cx = (xdom[0] + xdom[1]) / 2
    annotations.append(dict(text=chart_titles[i], xref="paper", yref="paper",
                            x=cx, y=1 - p["title_y"] / H, xanchor="center", yanchor="middle",
                            showarrow=False, font=dict(family=FONT, size=20, color="black", weight="bold")))
    annotations.append(dict(text=x_title, xref="paper", yref="paper",
                            x=cx, y=1 - p["xtitle_y"] / H, xanchor="center", yanchor="middle",
                            showarrow=False, font=dict(family=FONT, size=17, color="black", weight="bold")))
    annotations.append(dict(text=y_title, xref="paper", yref="paper", textangle=-90,
                            x=26 / W, y=(ydom[0] + ydom[1]) / 2, xanchor="center", yanchor="middle",
                            showarrow=False, font=dict(family=FONT, size=17, color="black", weight="bold")))

layout["annotations"] = annotations
layout["shapes"] = shapes
fig.update_layout(**layout)
fig.write_html("out.html")
